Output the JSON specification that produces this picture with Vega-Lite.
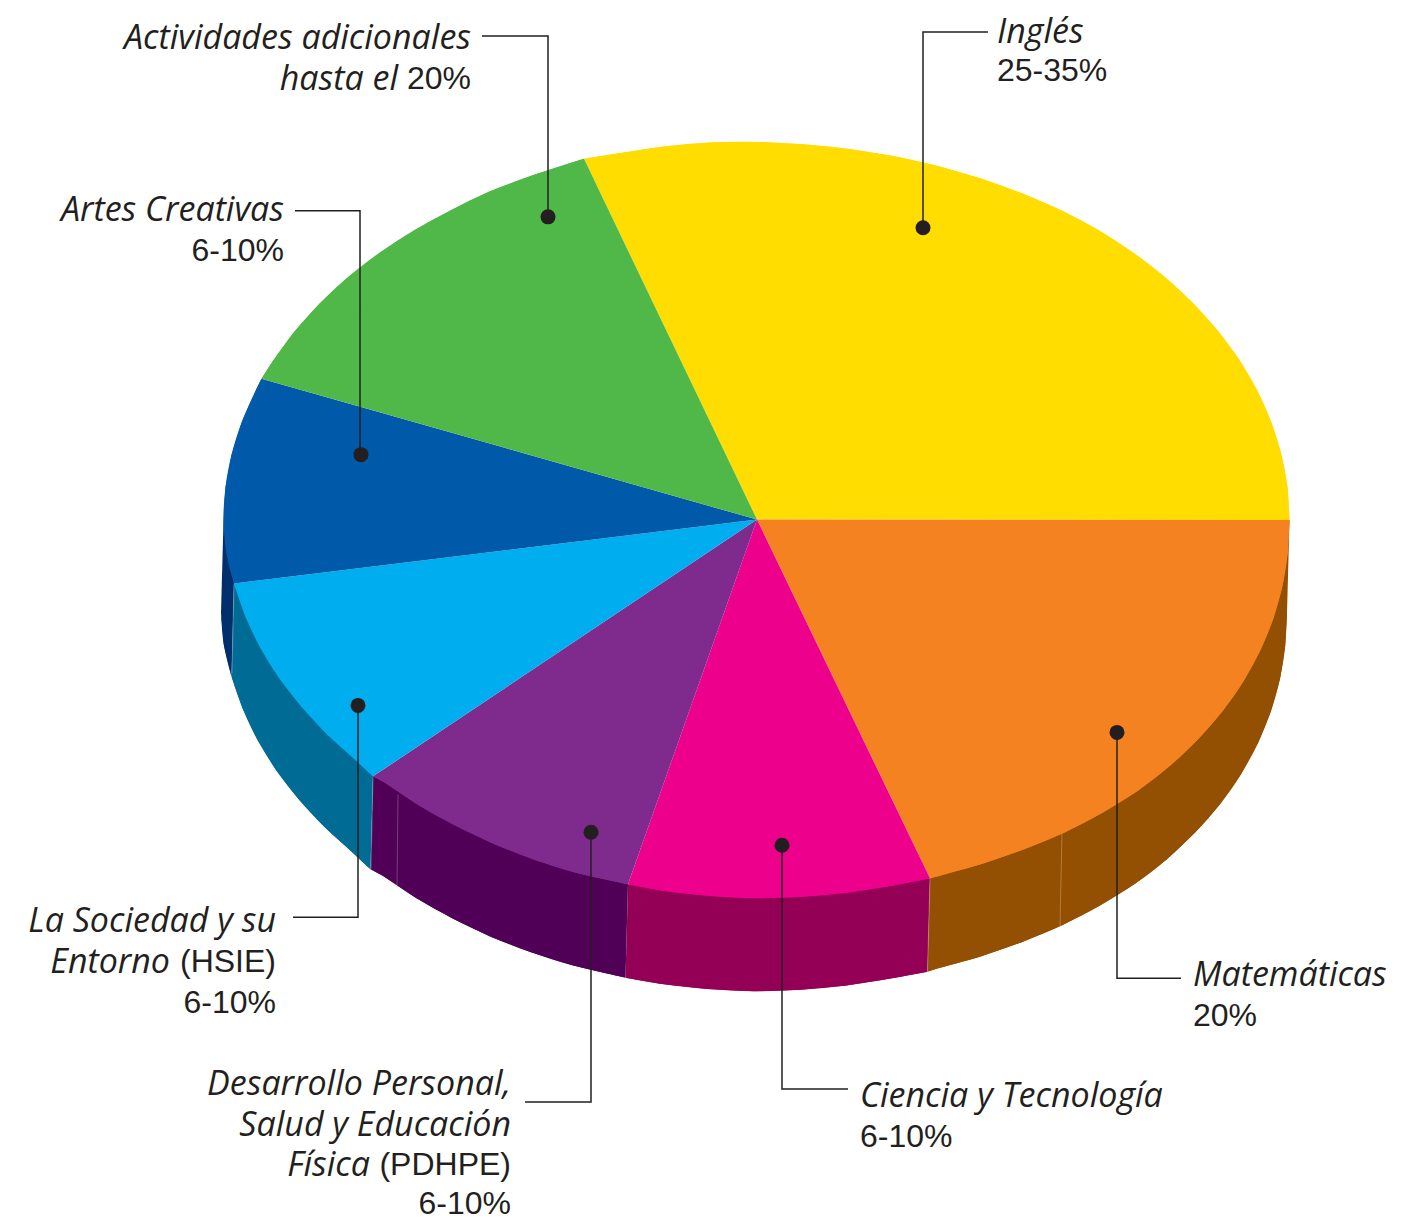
{"$schema":"https://vega.github.io/schema/vega-lite/v6.json","width":1411,"height":1220,"padding":0,"autosize":{"type":"fit","contains":"padding"},"background":"white","view":{"stroke":null},"config":{"axis":{"domain":false}},
"datasets":{
"paredes":[
{"sector":"Matemáticas lateral","orden":0,"x":1289.5,"y":519.5},{"sector":"Matemáticas lateral","orden":1,"x":1287,"y":612.5},{"sector":"Matemáticas lateral","orden":2,"x":1285.2,"y":645.6},{"sector":"Matemáticas lateral","orden":3,"x":1280,"y":678.3},{"sector":"Matemáticas lateral","orden":4,"x":1270.9,"y":710.9},{"sector":"Matemáticas lateral","orden":5,"x":1257.9,"y":742.8},{"sector":"Matemáticas lateral","orden":6,"x":1241,"y":773.8},{"sector":"Matemáticas lateral","orden":7,"x":1220.2,"y":803.7},{"sector":"Matemáticas lateral","orden":8,"x":1195.4,"y":832},{"sector":"Matemáticas lateral","orden":9,"x":1167.2,"y":858.7},{"sector":"Matemáticas lateral","orden":10,"x":1135.4,"y":883.3},{"sector":"Matemáticas lateral","orden":11,"x":1100,"y":905.3},{"sector":"Matemáticas lateral","orden":12,"x":1062.1,"y":925.1},{"sector":"Matemáticas lateral","orden":13,"x":1021.8,"y":941.9},{"sector":"Matemáticas lateral","orden":14,"x":979.9,"y":956.5},{"sector":"Matemáticas lateral","orden":15,"x":936.5,"y":968.6},{"sector":"Matemáticas lateral","orden":16,"x":927.5,"y":971.5},{"sector":"Matemáticas lateral","orden":17,"x":930,"y":878},
{"sector":"Ciencia lateral","orden":0,"x":930,"y":878},{"sector":"Ciencia lateral","orden":1,"x":927.5,"y":971.5},{"sector":"Ciencia lateral","orden":2,"x":891.9,"y":978.1},{"sector":"Ciencia lateral","orden":3,"x":846.5,"y":985.3},{"sector":"Ciencia lateral","orden":4,"x":800.5,"y":989.6},{"sector":"Ciencia lateral","orden":5,"x":754,"y":991},{"sector":"Ciencia lateral","orden":6,"x":707.6,"y":988.8},{"sector":"Ciencia lateral","orden":7,"x":661.9,"y":983.8},{"sector":"Ciencia lateral","orden":8,"x":625.5,"y":977.5},{"sector":"Ciencia lateral","orden":9,"x":628,"y":884},
{"sector":"Desarrollo lateral","orden":0,"x":628,"y":884},{"sector":"Desarrollo lateral","orden":1,"x":625.5,"y":977.5},{"sector":"Desarrollo lateral","orden":2,"x":573.2,"y":965.4},{"sector":"Desarrollo lateral","orden":3,"x":531,"y":952.1},{"sector":"Desarrollo lateral","orden":4,"x":490.7,"y":936.4},{"sector":"Desarrollo lateral","orden":5,"x":452.6,"y":918.3},{"sector":"Desarrollo lateral","orden":6,"x":416.5,"y":898.1},{"sector":"Desarrollo lateral","orden":7,"x":383.1,"y":875.8},{"sector":"Desarrollo lateral","orden":8,"x":370.5,"y":869},{"sector":"Desarrollo lateral","orden":9,"x":373,"y":776},
{"sector":"Sociedad lateral","orden":0,"x":373,"y":776},{"sector":"Sociedad lateral","orden":1,"x":370.5,"y":869},{"sector":"Sociedad lateral","orden":2,"x":352.2,"y":851.9},{"sector":"Sociedad lateral","orden":3,"x":324,"y":826.3},{"sector":"Sociedad lateral","orden":4,"x":298.9,"y":799.1},{"sector":"Sociedad lateral","orden":5,"x":276.7,"y":770.6},{"sector":"Sociedad lateral","orden":6,"x":258.1,"y":740.7},{"sector":"Sociedad lateral","orden":7,"x":243.3,"y":709.7},{"sector":"Sociedad lateral","orden":8,"x":231.5,"y":676},{"sector":"Sociedad lateral","orden":9,"x":234,"y":583},
{"sector":"Artes lateral","orden":0,"x":234,"y":583},{"sector":"Artes lateral","orden":1,"x":231.5,"y":676},{"sector":"Artes lateral","orden":2,"x":224,"y":645.4},{"sector":"Artes lateral","orden":3,"x":221,"y":612.5},{"sector":"Artes lateral","orden":4,"x":223.5,"y":519.5}
],
"caras":[
{"sector":"Inglés","orden":0,"x":757,"y":519},{"sector":"Inglés","orden":1,"x":584,"y":158},{"sector":"Inglés","orden":2,"x":618.6,"y":152.4},{"sector":"Inglés","orden":3,"x":664,"y":145.5},{"sector":"Inglés","orden":4,"x":710,"y":141.5},{"sector":"Inglés","orden":5,"x":756.5,"y":141},{"sector":"Inglés","orden":6,"x":803,"y":143.4},{"sector":"Inglés","orden":7,"x":849,"y":148},{"sector":"Inglés","orden":8,"x":894.4,"y":155.5},{"sector":"Inglés","orden":9,"x":938.8,"y":165.5},{"sector":"Inglés","orden":10,"x":981.7,"y":178},{"sector":"Inglés","orden":11,"x":1023,"y":193},{"sector":"Inglés","orden":12,"x":1062.2,"y":210},{"sector":"Inglés","orden":13,"x":1099.1,"y":229.6},{"sector":"Inglés","orden":14,"x":1133.4,"y":251.9},{"sector":"Inglés","orden":15,"x":1164.8,"y":276.2},{"sector":"Inglés","orden":16,"x":1193.1,"y":302.4},{"sector":"Inglés","orden":17,"x":1218.1,"y":330.2},{"sector":"Inglés","orden":18,"x":1239.6,"y":359.5},{"sector":"Inglés","orden":19,"x":1257.4,"y":390},{"sector":"Inglés","orden":20,"x":1271.3,"y":421.5},{"sector":"Inglés","orden":21,"x":1281.4,"y":453.8},{"sector":"Inglés","orden":22,"x":1287.5,"y":486.5},{"sector":"Inglés","orden":23,"x":1289.5,"y":519.5},
{"sector":"Matemáticas","orden":0,"x":757,"y":519},{"sector":"Matemáticas","orden":1,"x":1289.5,"y":519.5},{"sector":"Matemáticas","orden":2,"x":1287.7,"y":552.6},{"sector":"Matemáticas","orden":3,"x":1282.5,"y":585.3},{"sector":"Matemáticas","orden":4,"x":1273.4,"y":617.9},{"sector":"Matemáticas","orden":5,"x":1260.4,"y":649.8},{"sector":"Matemáticas","orden":6,"x":1243.5,"y":680.8},{"sector":"Matemáticas","orden":7,"x":1222.7,"y":710.7},{"sector":"Matemáticas","orden":8,"x":1197.9,"y":739},{"sector":"Matemáticas","orden":9,"x":1169.7,"y":765.7},{"sector":"Matemáticas","orden":10,"x":1137.9,"y":790.3},{"sector":"Matemáticas","orden":11,"x":1102.5,"y":812.3},{"sector":"Matemáticas","orden":12,"x":1064.6,"y":832.1},{"sector":"Matemáticas","orden":13,"x":1024.3,"y":848.9},{"sector":"Matemáticas","orden":14,"x":982.4,"y":863.5},{"sector":"Matemáticas","orden":15,"x":939,"y":875.6},{"sector":"Matemáticas","orden":16,"x":930,"y":878},
{"sector":"Ciencia","orden":0,"x":757,"y":519},{"sector":"Ciencia","orden":1,"x":930,"y":878},{"sector":"Ciencia","orden":2,"x":894.4,"y":885.1},{"sector":"Ciencia","orden":3,"x":849,"y":892.3},{"sector":"Ciencia","orden":4,"x":803,"y":896.6},{"sector":"Ciencia","orden":5,"x":756.5,"y":898},{"sector":"Ciencia","orden":6,"x":710.1,"y":895.8},{"sector":"Ciencia","orden":7,"x":664.4,"y":890.8},{"sector":"Ciencia","orden":8,"x":628,"y":884},
{"sector":"Desarrollo","orden":0,"x":757,"y":519},{"sector":"Desarrollo","orden":1,"x":628,"y":884},{"sector":"Desarrollo","orden":2,"x":575.7,"y":872.4},{"sector":"Desarrollo","orden":3,"x":533.5,"y":859.1},{"sector":"Desarrollo","orden":4,"x":493.2,"y":843.4},{"sector":"Desarrollo","orden":5,"x":455.1,"y":825.3},{"sector":"Desarrollo","orden":6,"x":419,"y":805.1},{"sector":"Desarrollo","orden":7,"x":385.6,"y":782.8},{"sector":"Desarrollo","orden":8,"x":373,"y":776},
{"sector":"Sociedad","orden":0,"x":757,"y":519},{"sector":"Sociedad","orden":1,"x":373,"y":776},{"sector":"Sociedad","orden":2,"x":354.7,"y":758.9},{"sector":"Sociedad","orden":3,"x":326.5,"y":733.3},{"sector":"Sociedad","orden":4,"x":301.4,"y":706.1},{"sector":"Sociedad","orden":5,"x":279.2,"y":677.6},{"sector":"Sociedad","orden":6,"x":260.6,"y":647.7},{"sector":"Sociedad","orden":7,"x":245.8,"y":616.7},{"sector":"Sociedad","orden":8,"x":234,"y":583},
{"sector":"Artes","orden":0,"x":757,"y":519},{"sector":"Artes","orden":1,"x":234,"y":583},{"sector":"Artes","orden":2,"x":226.5,"y":552.4},{"sector":"Artes","orden":3,"x":223.5,"y":519.5},{"sector":"Artes","orden":4,"x":225.5,"y":486.5},{"sector":"Artes","orden":5,"x":231.6,"y":453.8},{"sector":"Artes","orden":6,"x":241.7,"y":421.5},{"sector":"Artes","orden":7,"x":255.6,"y":390},{"sector":"Artes","orden":8,"x":261.5,"y":378},
{"sector":"Actividades","orden":0,"x":757,"y":519},{"sector":"Actividades","orden":1,"x":261.5,"y":378},{"sector":"Actividades","orden":2,"x":273.4,"y":359.5},{"sector":"Actividades","orden":3,"x":294.9,"y":330.2},{"sector":"Actividades","orden":4,"x":319.9,"y":302.4},{"sector":"Actividades","orden":5,"x":348.2,"y":276.2},{"sector":"Actividades","orden":6,"x":379.6,"y":251.9},{"sector":"Actividades","orden":7,"x":413.9,"y":229.6},{"sector":"Actividades","orden":8,"x":450.8,"y":209.4},{"sector":"Actividades","orden":9,"x":490,"y":190.5},{"sector":"Actividades","orden":10,"x":531.3,"y":175},{"sector":"Actividades","orden":11,"x":574.2,"y":161},{"sector":"Actividades","orden":12,"x":584,"y":158}
],
"costuras":[
{"tramo":"a","orden":0,"x":1062,"y":832,"tono":"Matemáticas"},{"tramo":"a","orden":1,"x":1060,"y":926,"tono":"Matemáticas"},
{"tramo":"b","orden":0,"x":930,"y":878,"tono":"Matemáticas"},{"tramo":"b","orden":1,"x":927.5,"y":971,"tono":"Matemáticas"},
{"tramo":"c","orden":0,"x":398,"y":794,"tono":"Desarrollo"},{"tramo":"c","orden":1,"x":397,"y":887,"tono":"Desarrollo"},
{"tramo":"d","orden":0,"x":373,"y":777,"tono":"Sociedad"},{"tramo":"d","orden":1,"x":371,"y":868,"tono":"Sociedad"},
{"tramo":"e","orden":0,"x":234,"y":584,"tono":"Sociedad"},{"tramo":"e","orden":1,"x":232,"y":673,"tono":"Sociedad"}
],
"guias":[
{"etiqueta":"Actividades","orden":0,"x":482,"y":35},{"etiqueta":"Actividades","orden":1,"x":548,"y":35},{"etiqueta":"Actividades","orden":2,"x":548,"y":216},
{"etiqueta":"Inglés","orden":0,"x":988,"y":31},{"etiqueta":"Inglés","orden":1,"x":923,"y":31},{"etiqueta":"Inglés","orden":2,"x":923,"y":227},
{"etiqueta":"Artes","orden":0,"x":295,"y":210},{"etiqueta":"Artes","orden":1,"x":360,"y":210},{"etiqueta":"Artes","orden":2,"x":360,"y":454},
{"etiqueta":"Matemáticas","orden":0,"x":1117,"y":732},{"etiqueta":"Matemáticas","orden":1,"x":1117,"y":978},{"etiqueta":"Matemáticas","orden":2,"x":1181,"y":978},
{"etiqueta":"Ciencia","orden":0,"x":782,"y":845},{"etiqueta":"Ciencia","orden":1,"x":782,"y":1089},{"etiqueta":"Ciencia","orden":2,"x":848,"y":1089},
{"etiqueta":"Desarrollo","orden":0,"x":591,"y":832},{"etiqueta":"Desarrollo","orden":1,"x":591,"y":1102},{"etiqueta":"Desarrollo","orden":2,"x":525,"y":1102},
{"etiqueta":"Sociedad","orden":0,"x":358,"y":705},{"etiqueta":"Sociedad","orden":1,"x":358,"y":917},{"etiqueta":"Sociedad","orden":2,"x":293,"y":917}
],
"puntos":[{"x":548,"y":216},{"x":923,"y":227},{"x":361,"y":454},{"x":1117,"y":732},{"x":782,"y":845},{"x":591,"y":832},{"x":358,"y":705}],
"textos":[
{"texto":"Actividades adicionales","x":471,"y":47,"estilo":"i","alin":"r"},
{"texto":"hasta el","x":398,"y":88,"estilo":"i","alin":"r"},
{"texto":"20%","x":471,"y":88,"estilo":"n","alin":"r"},
{"texto":"Artes Creativas","x":284,"y":219,"estilo":"i","alin":"r"},
{"texto":"6-10%","x":284,"y":260,"estilo":"n","alin":"r"},
{"texto":"La Sociedad y su","x":276,"y":931,"estilo":"i","alin":"r"},
{"texto":"Entorno","x":170,"y":972,"estilo":"i","alin":"r"},
{"texto":"(HSIE)","x":276,"y":972,"estilo":"n","alin":"r"},
{"texto":"6-10%","x":276,"y":1013,"estilo":"n","alin":"r"},
{"texto":"Desarrollo Personal,","x":511,"y":1094,"estilo":"i","alin":"r"},
{"texto":"Salud y Educación","x":511,"y":1135,"estilo":"i","alin":"r"},
{"texto":"Física","x":370,"y":1175,"estilo":"i","alin":"r"},
{"texto":"(PDHPE)","x":511,"y":1175,"estilo":"n","alin":"r"},
{"texto":"6-10%","x":511,"y":1214,"estilo":"n","alin":"r"},
{"texto":"Inglés","x":997,"y":41,"estilo":"i","alin":"l"},
{"texto":"25-35%","x":997,"y":80,"estilo":"n","alin":"l"},
{"texto":"Matemáticas","x":1193,"y":985,"estilo":"i","alin":"l"},
{"texto":"20%","x":1193,"y":1026,"estilo":"n","alin":"l"},
{"texto":"Ciencia y Tecnología","x":860,"y":1106,"estilo":"i","alin":"l"},
{"texto":"6-10%","x":860,"y":1147,"estilo":"n","alin":"l"}
]},
"encoding":{
"x":{"field":"x","type":"quantitative","axis":null,"scale":{"domain":[0,1411],"nice":false,"zero":false}},
"y":{"field":"y","type":"quantitative","axis":null,"scale":{"domain":[1219,-1],"nice":false,"zero":false}}
},
"layer":[
{"data":{"name":"paredes"},"mark":{"type":"line","strokeWidth":0,"clip":false},"encoding":{"order":{"field":"orden","type":"quantitative"},"fill":{"field":"sector","type":"nominal","legend":null,"scale":{"domain":["Matemáticas lateral","Ciencia lateral","Desarrollo lateral","Sociedad lateral","Artes lateral"],"range":["#934F02","#930055","#500056","#006C96","#002F6C"]}}}},
{"data":{"name":"paredes"},"transform":[{"joinaggregate":[{"op":"max","field":"orden","as":"ultimo"}],"groupby":["sector"]},{"filter":"datum.orden>0 && (datum.orden<datum.ultimo)"}],"mark":{"type":"line","strokeWidth":0,"clip":false,"interpolate":"catmull-rom"},"encoding":{"order":{"field":"orden","type":"quantitative"},"fill":{"field":"sector","type":"nominal","legend":null,"scale":{"domain":["Matemáticas lateral","Ciencia lateral","Desarrollo lateral","Sociedad lateral","Artes lateral"],"range":["#934F02","#930055","#500056","#006C96","#002F6C"]}}}},
{"data":{"name":"costuras"},"mark":{"type":"line","strokeWidth":0.8,"opacity":0.55},"encoding":{"detail":{"field":"tramo"},"order":{"field":"orden","type":"quantitative"},"stroke":{"field":"tono","type":"nominal","legend":null,"scale":{"domain":["Matemáticas","Desarrollo","Sociedad"],"range":["#D9B88C","#A98AB0","#8FC4D8"]}}}},
{"data":{"name":"caras"},"mark":{"type":"line","strokeWidth":0,"clip":false},"encoding":{"order":{"field":"orden","type":"quantitative"},"fill":{"field":"sector","type":"nominal","legend":null,"scale":{"domain":["Inglés","Matemáticas","Ciencia","Desarrollo","Sociedad","Artes","Actividades"],"range":["#FFDD00","#F58220","#EC008C","#7F2B8E","#00AEEF","#0059A9","#50B848"]}}}},
{"data":{"name":"caras"},"transform":[{"filter":"datum.orden>0"}],"mark":{"type":"line","strokeWidth":0,"clip":false,"interpolate":"catmull-rom"},"encoding":{"order":{"field":"orden","type":"quantitative"},"fill":{"field":"sector","type":"nominal","legend":null,"scale":{"domain":["Inglés","Matemáticas","Ciencia","Desarrollo","Sociedad","Artes","Actividades"],"range":["#FFDD00","#F58220","#EC008C","#7F2B8E","#00AEEF","#0059A9","#50B848"]}}}},
{"data":{"name":"guias"},"mark":{"type":"line","stroke":"#231F20","strokeWidth":1.5},"encoding":{"detail":{"field":"etiqueta"},"order":{"field":"orden","type":"quantitative"}}},
{"data":{"name":"puntos"},"mark":{"type":"point","filled":true,"fill":"#231F20","opacity":1,"size":225,"shape":"circle"}},
{"data":{"name":"textos"},"transform":[{"filter":"datum.estilo=='i' && datum.alin=='r'"}],"mark":{"type":"text","align":"right","baseline":"alphabetic","dy":1,"font":"Open Sans","fontStyle":"italic","fontSize":34,"fill":"#231F20"},"encoding":{"text":{"field":"texto"}}},
{"data":{"name":"textos"},"transform":[{"filter":"datum.estilo=='i' && datum.alin=='l'"}],"mark":{"type":"text","align":"left","baseline":"alphabetic","dy":1,"font":"Open Sans","fontStyle":"italic","fontSize":34,"fill":"#231F20"},"encoding":{"text":{"field":"texto"}}},
{"data":{"name":"textos"},"transform":[{"filter":"datum.estilo=='n' && datum.alin=='r'"}],"mark":{"type":"text","align":"right","baseline":"alphabetic","font":"Liberation Sans","fontSize":32,"fill":"#231F20"},"encoding":{"text":{"field":"texto"}}},
{"data":{"name":"textos"},"transform":[{"filter":"datum.estilo=='n' && datum.alin=='l'"}],"mark":{"type":"text","align":"left","baseline":"alphabetic","font":"Liberation Sans","fontSize":32,"fill":"#231F20"},"encoding":{"text":{"field":"texto"}}}
],
"resolve":{"scale":{"fill":"independent","stroke":"independent"}}
}
